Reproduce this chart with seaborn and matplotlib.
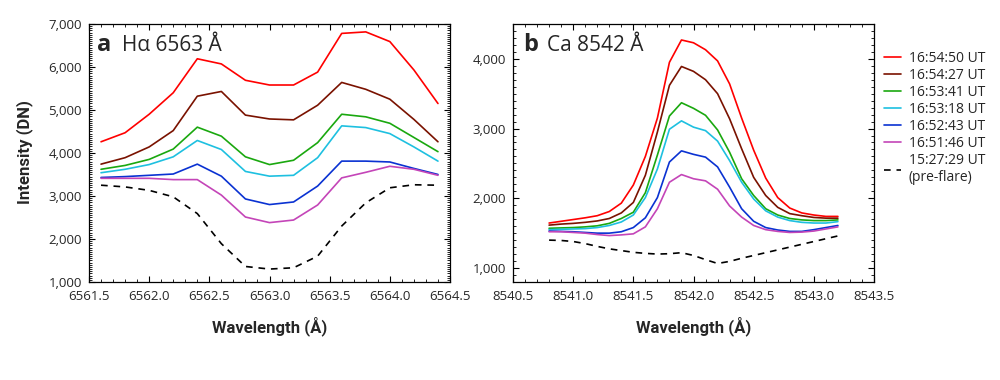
import pandas as pd
import matplotlib
matplotlib.use("Agg")
import matplotlib.pyplot as plt
import seaborn as sns
from matplotlib.ticker import MultipleLocator, FuncFormatter

# legend labels, newest first
times = ["16:54:50 UT", "16:54:27 UT", "16:53:41 UT", "16:53:18 UT",
         "16:52:43 UT", "16:51:46 UT", "15:27:29 UT\n(pre-flare)"]
colors = ["#ff0000", "#7a1200", "#1aa80f", "#1ec0e0", "#0a32d2", "#c445b8", "black"]

# H-alpha 6563 profiles
wl_ha = [6561.6, 6561.8, 6562.0, 6562.2, 6562.4, 6562.6, 6562.8, 6563.0,
         6563.2, 6563.4, 6563.6, 6563.8, 6564.0, 6564.2, 6564.4]
ha_165450 = [4260, 4470, 4900, 5400, 6190, 6070, 5690, 5580, 5580, 5880, 6780, 6815, 6590, 5930, 5150]
ha_165427 = [3740, 3890, 4140, 4520, 5320, 5430, 4880, 4790, 4770, 5110, 5640, 5480, 5250, 4780, 4260]
ha_165341 = [3620, 3710, 3850, 4090, 4600, 4390, 3910, 3730, 3830, 4240, 4900, 4840, 4690, 4360, 4030]
ha_165318 = [3540, 3620, 3730, 3910, 4290, 4080, 3570, 3460, 3480, 3890, 4630, 4590, 4450, 4140, 3810]
ha_165243 = [3430, 3450, 3480, 3510, 3740, 3460, 2930, 2800, 2860, 3230, 3810, 3810, 3790, 3640, 3500]
ha_165146 = [3410, 3410, 3410, 3380, 3380, 3020, 2510, 2380, 2440, 2790, 3420, 3550, 3690, 3620, 3480]
ha_152729 = [3250, 3210, 3130, 2980, 2590, 1890, 1360, 1300, 1330, 1600, 2300, 2840, 3190, 3260, 3250]

# Ca II 8542 profiles
wl_ca = [8540.8, 8540.9, 8541.0, 8541.1, 8541.2, 8541.3, 8541.4, 8541.5, 8541.6,
         8541.7, 8541.8, 8541.9, 8542.0, 8542.1, 8542.2, 8542.3, 8542.4, 8542.5,
         8542.6, 8542.7, 8542.8, 8542.9, 8543.0, 8543.1, 8543.2]
ca_165450 = [1645, 1670, 1695, 1720, 1750, 1810, 1930, 2190, 2600, 3150, 3950, 4270, 4230,
             4130, 3970, 3640, 3150, 2690, 2290, 2010, 1860, 1790, 1760, 1740, 1740]
ca_165427 = [1615, 1630, 1640, 1655, 1675, 1710, 1790, 1940, 2330, 2950, 3620, 3890, 3820,
             3700, 3500, 3140, 2710, 2300, 2040, 1870, 1780, 1750, 1725, 1715, 1715]
ca_165341 = [1570, 1575, 1580, 1590, 1605, 1640, 1710, 1800, 2080, 2620, 3180, 3370, 3290,
             3190, 2980, 2660, 2280, 2040, 1850, 1760, 1710, 1690, 1680, 1680, 1690]
ca_165318 = [1550, 1555, 1560, 1565, 1580, 1610, 1660, 1760, 2010, 2420, 2990, 3110, 3020,
             2970, 2820, 2540, 2230, 1990, 1820, 1730, 1680, 1655, 1645, 1645, 1665]
ca_165243 = [1530, 1525, 1520, 1510, 1500, 1500, 1520, 1580, 1720, 2010, 2520, 2680, 2630,
             2590, 2450, 2160, 1850, 1670, 1580, 1545, 1525, 1525, 1550, 1580, 1610]
ca_165146 = [1520, 1520, 1510, 1500, 1480, 1465, 1475, 1490, 1590, 1850, 2230, 2340, 2280,
             2250, 2130, 1890, 1730, 1610, 1550, 1525, 1510, 1515, 1530, 1560, 1590]
ca_152729 = [1400, 1395, 1380, 1350, 1310, 1275, 1250, 1225, 1210, 1200, 1205, 1220, 1180,
             1120, 1065, 1095, 1140, 1180, 1220, 1260, 1300, 1340, 1380, 1420, 1460]

ha_series = [ha_165450, ha_165427, ha_165341, ha_165318, ha_165243, ha_165146, ha_152729]
ca_series = [ca_165450, ca_165427, ca_165341, ca_165318, ca_165243, ca_165146, ca_152729]

rows = []
for t, vals in zip(times, ha_series):
    for w, v in zip(wl_ha, vals):
        rows.append({"line": "Ha", "time": t, "wavelength": w, "intensity": v})
for t, vals in zip(times, ca_series):
    for w, v in zip(wl_ca, vals):
        rows.append({"line": "Ca", "time": t, "wavelength": w, "intensity": v})
df = pd.DataFrame(rows)

sns.set_theme(style="ticks")
plt.rcParams["font.family"] = ["Open Sans", "DejaVu Sans"]
label_font = ["Roboto", "DejaVu Sans"]

palette = dict(zip(times, colors))
dashes = {t: "" for t in times}
dashes[times[-1]] = (4, 3.5)

fig = plt.figure(figsize=(10, 3.8), dpi=100)
ax_a = fig.add_axes([0.089, 0.258, 0.361, 0.679])
ax_b = fig.add_axes([0.513, 0.258, 0.361, 0.679])

for ax, name in [(ax_a, "Ha"), (ax_b, "Ca")]:
    sns.lineplot(data=df[df["line"] == name], x="wavelength", y="intensity",
                 hue="time", style="time", hue_order=times, style_order=times,
                 palette=palette, dashes=dashes, linewidth=1.2, ax=ax,
                 legend=(name == "Ca"))
    ax.tick_params(which="both", direction="in", top=True, right=True,
                   labelsize=9.5, color="black")
    ax.tick_params(which="major", length=4, width=0.8)
    ax.tick_params(which="minor", length=2, width=0.6)
    ax.tick_params(axis="x", pad=6)
    ax.tick_params(axis="y", pad=5)
    ax.xaxis.set_major_locator(MultipleLocator(0.5))
    ax.xaxis.set_minor_locator(MultipleLocator(0.1))
    ax.xaxis.set_major_formatter(FuncFormatter(lambda v, p: f"{v:.1f}"))
    ax.yaxis.set_major_locator(MultipleLocator(1000))
    ax.yaxis.set_major_formatter(FuncFormatter(lambda v, p: f"{v:,.0f}"))
    ax.set_ylabel("")
    ax.set_xlabel("Wavelength (Å)", fontsize=12, fontweight="bold",
                  family=label_font, labelpad=9)
    for s in ax.spines.values():
        s.set_linewidth(0.9)
        s.set_color("black")

ax_a.set_xlim(6561.5, 6564.5)
ax_a.set_ylim(1000, 7000)
ax_a.yaxis.set_minor_locator(MultipleLocator(50))
ax_b.set_xlim(8540.5, 8543.5)
ax_b.set_ylim(800, 4500)
ax_b.yaxis.set_minor_locator(MultipleLocator(100))

ax_a.text(0.022, 0.918, "a", transform=ax_a.transAxes, fontsize=17,
          fontweight="bold", va="center")
ax_a.text(0.091, 0.918, "Hα 6563 Å", transform=ax_a.transAxes, fontsize=15, va="center")
ax_b.text(0.028, 0.918, "b", transform=ax_b.transAxes, fontsize=17,
          fontweight="bold", va="center")
ax_b.text(0.094, 0.918, "Ca 8542 Å", transform=ax_b.transAxes, fontsize=15, va="center")

fig.text(0.025, 0.6, "Intensity (DN)", rotation=90, fontsize=12,
         fontweight="bold", family=label_font, ha="center", va="center")

handles, labels = ax_b.get_legend_handles_labels()
ax_b.get_legend().remove()
fig.legend(handles, labels, loc="upper left", bbox_to_anchor=(0.877, 0.885),
           frameon=False, fontsize=10, borderpad=0, handlelength=1.2,
           handletextpad=0.6, labelspacing=0.15)

fig.savefig("out.png", dpi=100)
